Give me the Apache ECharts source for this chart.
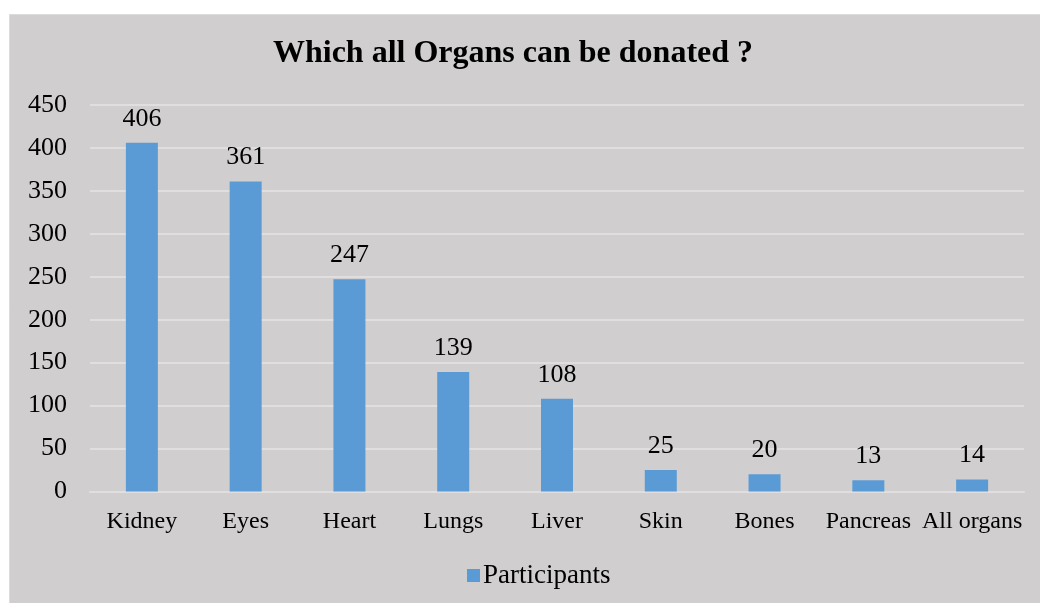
<!DOCTYPE html>
<html>
<head>
<meta charset="utf-8">
<script src="https://cdn.jsdelivr.net/npm/echarts@6/dist/echarts.min.js"></script>
<style>
html,body{margin:0;padding:0;background:#fff;}
#c{width:1040px;height:603px;}
</style>
</head>
<body>
<div id="c"></div>
<script>
var titleText = 'Which all Organs can be donated ?';
var categories = ['Kidney','Eyes','Heart','Lungs','Liver','Skin','Bones','Pancreas','All organs'];
var seriesName = 'Participants';
var values = [406, 361, 247, 139, 108, 25, 20, 13, 14];
var yMin = 0, yMax = 450, yStep = 50;

var font = '"Liberation Serif", "Times New Roman", serif';
var chart = echarts.init(document.getElementById('c'), null, {renderer:'canvas'});
chart.setOption({
  backgroundColor: '#ffffff',
  animation: false,
  graphic: [{
    type: 'rect', left: 9, top: 14, z: -10,
    shape: {width: 1040, height: 600},
    style: {fill: '#d0cece', stroke: '#dcdada', lineWidth: 1}
  }],
  title: {
    text: titleText,
    left: 508, top: 33, textAlign: 'center',
    textStyle: {fontFamily: font, fontWeight: 'bold', fontSize: 32, color: '#000'}
  },
  legend: {
    data: [seriesName],
    left: 462, top: 557,
    itemWidth: 13, itemHeight: 13, itemGap: 6,
    icon: 'rect',
    textStyle: {fontFamily: font, fontSize: 27, color: '#000', padding: [0,0,0,-2]}
  },
  grid: {left: 90, right: 16, top: 105, bottom: 111.5, containLabel: false},
  xAxis: {
    type: 'category', data: categories,
    axisLine: {lineStyle: {color: '#e0dede', width: 2}},
    axisTick: {show: false},
    axisLabel: {fontFamily: font, fontSize: 24, color: '#000', margin: 18, interval: 0}
  },
  yAxis: {
    type: 'value', min: yMin, max: yMax, interval: yStep,
    axisLine: {show: false}, axisTick: {show: false},
    splitLine: {lineStyle: {color: '#e0dede', width: 2}},
    axisLabel: {fontFamily: font, fontSize: 26, color: '#000', margin: 23}
  },
  series: [{
    name: seriesName, type: 'bar', data: values, barWidth: 32,
    itemStyle: {color: '#5b9bd5'},
    label: {show: true, position: 'top', distance: 11, fontFamily: font, fontSize: 26, color: '#000'}
  }]
});
</script>
</body>
</html>
